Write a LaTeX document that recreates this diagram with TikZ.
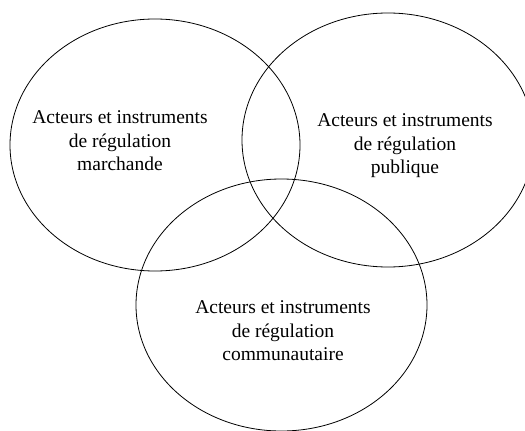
\documentclass[tikz,border=0pt]{standalone}
\usepackage{fontspec}
\setmainfont{Liberation Serif}
\usetikzlibrary{shapes.geometric}
\begin{document}
\begin{tikzpicture}[x=1pt,y=-1pt,
  setshape/.style={draw=black,line width=0.8pt,ellipse,inner sep=0pt,minimum width=#1},
  lbl/.style={align=center,font=\fontsize{19.5}{23.4}\selectfont,inner sep=0pt}]
\useasboundingbox (0,0) rectangle (525,431);
\node[setshape=290pt,minimum height=252pt] (m) at (155,145) {};
\node[setshape=292pt,minimum height=254pt] (p) at (388,140) {};
\node[setshape=291pt,minimum height=252pt] (c) at (281.5,305) {};
\node[lbl] (tm) at (120,141) {Acteurs et instruments\\de régulation\\marchande};
\node[lbl] (tp) at (405,146) {Acteurs et instruments\\de régulation\\publique};
\node[lbl] (tc) at (283,331) {Acteurs et instruments\\de régulation\\communautaire};
\end{tikzpicture}
\end{document}
